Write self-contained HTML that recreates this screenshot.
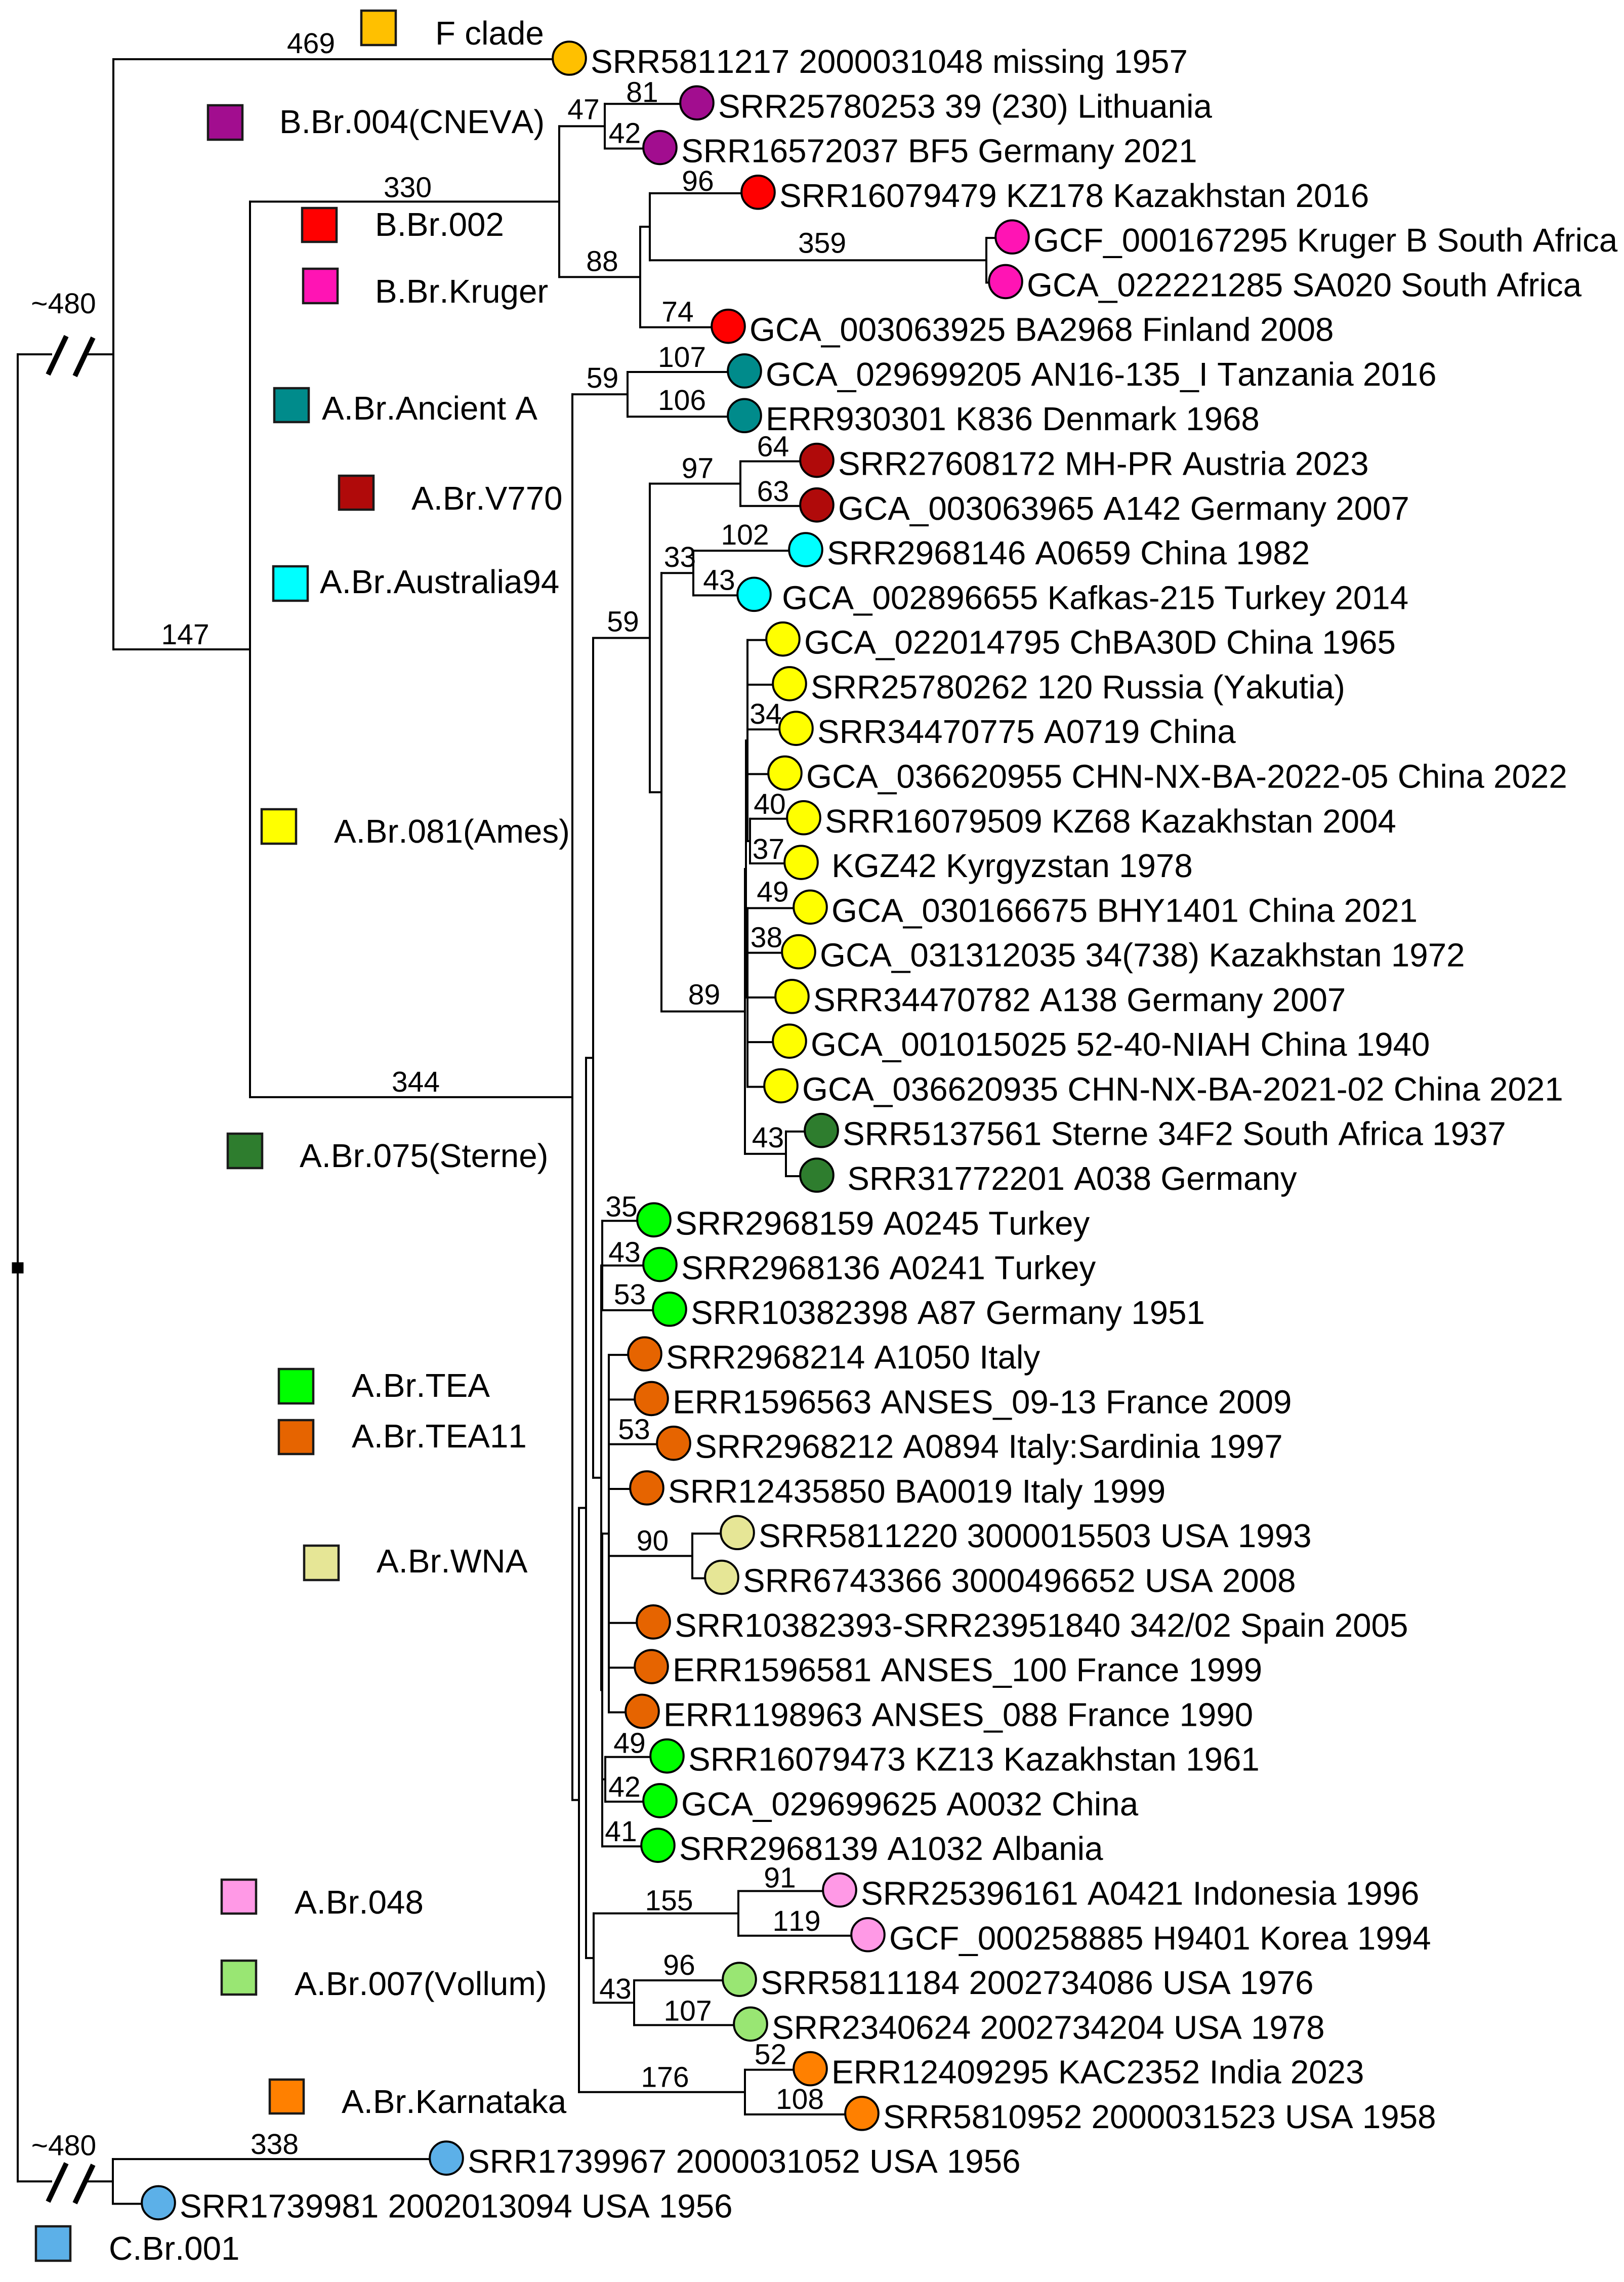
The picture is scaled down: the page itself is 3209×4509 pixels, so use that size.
<!DOCTYPE html>
<html lang="en">
<head>
<meta charset="utf-8">
<title>Bacillus anthracis phylogeny</title>
<style>
html,body{margin:0;padding:0;background:#fff;}
svg{display:block;}
text{font-family:"Liberation Sans",Arial,sans-serif;fill:#000;font-kerning:none;text-rendering:geometricPrecision;}
.tip-text{font-size:65.5px;}
.legend-text{font-size:65.5px;}
.support-text{font-size:57px;text-anchor:middle;}
.swatch{stroke:#1a1a1a;stroke-width:4.5;}
</style>
</head>
<body>
<svg id="tree" xmlns="http://www.w3.org/2000/svg" width="3209" height="4509" viewBox="0 0 3209 4509">
  <rect x="0" y="0" width="3209" height="4509" fill="#fff"/>
  <g id="branches" stroke="#000" stroke-width="4" stroke-linecap="square" fill="none"></g>
  <g id="breaks" stroke="#000" stroke-width="10" fill="none"></g>
  <g id="supports"></g>
  <g id="tips"></g>
  <g id="labels"></g>

  <g>
    <g><rect class="swatch" x="714" y="21" width="68" height="68" fill="#FFC000"/><text class="legend-text" x="860" y="88">F clade</text></g>
    <g><rect class="swatch" x="411" y="208" width="68" height="68" fill="#A20D8F"/><text class="legend-text" x="552" y="263">B.Br.004(CNEVA)</text></g>
    <g><rect class="swatch" x="597" y="411" width="68" height="67" fill="#FF0000"/><text class="legend-text" x="741" y="466">B.Br.002</text></g>
    <g><rect class="swatch" x="599" y="531" width="68" height="68" fill="#FF14B4"/><text class="legend-text" x="741" y="598">B.Br.Kruger</text></g>
    <g><rect class="swatch" x="542" y="767" width="68" height="67" fill="#008B8B"/><text class="legend-text" x="636" y="829">A.Br.Ancient A</text></g>
    <g><rect class="swatch" x="670" y="940" width="68" height="67" fill="#B00A0A"/><text class="legend-text" x="813" y="1007">A.Br.V770</text></g>
    <g><rect class="swatch" x="540" y="1119" width="68" height="68" fill="#00FFFF"/><text class="legend-text" x="632" y="1172">A.Br.Australia94</text></g>
    <g><rect class="swatch" x="517" y="1599" width="68" height="68" fill="#FFFF00"/><text class="legend-text" x="660" y="1665">A.Br.081(Ames)</text></g>
    <g><rect class="swatch" x="450" y="2240" width="68" height="68" fill="#2E7D2E"/><text class="legend-text" x="592" y="2306">A.Br.075(Sterne)</text></g>
    <g><rect class="swatch" x="551" y="2705" width="68" height="68" fill="#00FF00"/><text class="legend-text" x="695" y="2760">A.Br.TEA</text></g>
    <g><rect class="swatch" x="551" y="2806" width="68" height="67" fill="#E66400"/><text class="legend-text" x="695" y="2860">A.Br.TEA11</text></g>
    <g><rect class="swatch" x="601" y="3054" width="68" height="68" fill="#E6E696"/><text class="legend-text" x="744" y="3107">A.Br.WNA</text></g>
    <g><rect class="swatch" x="438" y="3714" width="68" height="67" fill="#FF99E6"/><text class="legend-text" x="582" y="3781">A.Br.048</text></g>
    <g><rect class="swatch" x="438" y="3874" width="68" height="67" fill="#99E673"/><text class="legend-text" x="582" y="3942">A.Br.007(Vollum)</text></g>
    <g><rect class="swatch" x="533" y="4109" width="67" height="67" fill="#FF8000"/><text class="legend-text" x="675" y="4175">A.Br.Karnataka</text></g>
    <g><rect class="swatch" x="71" y="4399" width="68" height="68" fill="#5CB0E8"/><text class="legend-text" x="215" y="4465">C.Br.001</text></g>
  </g>
</svg>

<script>
// ---- Data: tips, listed top to bottom ----
const tipLabels = [
"SRR5811217 2000031048 missing 1957",
"SRR25780253 39 (230) Lithuania",
"SRR16572037 BF5 Germany 2021",
"SRR16079479 KZ178 Kazakhstan 2016",
"GCF_000167295 Kruger B South Africa",
"GCA_022221285 SA020 South Africa",
"GCA_003063925 BA2968 Finland 2008",
"GCA_029699205 AN16-135_I Tanzania 2016",
"ERR930301 K836 Denmark 1968",
"SRR27608172 MH-PR Austria 2023",
"GCA_003063965 A142 Germany 2007",
"SRR2968146 A0659 China 1982",
"\u2009GCA_002896655 Kafkas-215 Turkey 2014",
"GCA_022014795 ChBA30D China 1965",
"SRR25780262 120 Russia (Yakutia)",
"SRR34470775 A0719 China",
"GCA_036620955 CHN-NX-BA-2022-05 China 2022",
"SRR16079509 KZ68 Kazakhstan 2004",
"\u00A0KGZ42 Kyrgyzstan 1978",
"GCA_030166675 BHY1401 China 2021",
"GCA_031312035 34(738) Kazakhstan 1972",
"SRR34470782 A138 Germany 2007",
"GCA_001015025 52-40-NIAH China 1940",
"GCA_036620935 CHN-NX-BA-2021-02 China 2021",
"SRR5137561 Sterne 34F2 South Africa 1937",
"\u00A0SRR31772201 A038 Germany",
"SRR2968159 A0245 Turkey",
"SRR2968136 A0241 Turkey",
"SRR10382398 A87 Germany 1951",
"SRR2968214 A1050 Italy",
"ERR1596563 ANSES_09-13 France 2009",
"SRR2968212 A0894 Italy:Sardinia 1997",
"SRR12435850 BA0019 Italy 1999",
"SRR5811220 3000015503 USA 1993",
"SRR6743366 3000496652 USA 2008",
"SRR10382393-SRR23951840 342/02 Spain 2005",
"ERR1596581 ANSES_100 France 1999",
"ERR1198963 ANSES_088 France 1990",
"SRR16079473 KZ13 Kazakhstan 1961",
"GCA_029699625 A0032 China",
"SRR2968139 A1032 Albania",
"SRR25396161 A0421 Indonesia 1996",
"GCF_000258885 H9401 Korea 1994",
"SRR5811184 2002734086 USA 1976",
"SRR2340624 2002734204 USA 1978",
"ERR12409295 KAC2352 India 2023",
"SRR5810952 2000031523 USA 1958",
"SRR1739967 2000031052 USA 1956",
"SRR1739981 2002013094 USA 1956"
];
const tipClades = [
"F","CNEVA","CNEVA","B002","Kruger","Kruger","B002","Ancient","Ancient","V770","V770","Aus","Aus",
"Ames","Ames","Ames","Ames","Ames","Ames","Ames","Ames","Ames","Ames","Ames",
"Sterne","Sterne","TEA","TEA","TEA","TEA11","TEA11","TEA11","TEA11","WNA","WNA",
"TEA11","TEA11","TEA11","TEA","TEA","TEA","A048","A048","Vollum","Vollum","Karnataka","Karnataka","C","C"
];

// ---- Data: tree topology. Index 0-48 = tips, 49+ = internal nodes, 49 = root ----
const parents = [
50,54,54,56,57,57,55,59,59,68,68,70,70,74,74,74,74,75,75,76,76,76,76,76,72,72,78,78,78,80,80,80,80,81,81,80,80,80,82,82,79,64,64,65,65,61,61,51,51,
-1,49,49,50,52,53,53,55,56,52,58,58,60,60,62,63,63,62,66,67,67,69,69,71,71,73,74,73,66,77,77,79,80,79
];
// ---- Data: branch lengths as drawn, same indexing ----
const branchLengths = [
450.5,91,54.5,107,25.5,19,87,115.5,115.5,75.5,75.5,111,60,35,41.5,48,37,53,50.5,62,50.5,44,41.5,33,35,30.5,51,57,66.5,35.5,42,64,37.5,44.5,29,44,42,33,61,54,55,100,128,104,115,64.5,115.5,329.5,45,
0,94.5,94,135,305.5,45,80,9.5,332.5,318.5,54.5,6.5,164,7,7.5,143,40,7,56,89.5,11.5,31.5,82.5,40.5,1,1.5,2.5,1.5,8,1,1,6.5,82.5,3
];
// ---- Data: printed branch values, same indexing ----
const branchValues = [
"469","81","42","96","","","74","107","106","64","63","102","43","","","34","","40","37","49","38","","","","","","35","43","53","","","53","","","","","","","49","42","41","91","119","96","107","52","108","338","",
"","~480","~480","147","330","47","88","","359","344","59","","176","","","155","43","","59","97","","33","89","43","","","","","","","","","90",""
];
// Branches drawn with a scale break
const brokenBranches = [50, 51];

// ---- Styles / layout (not data) ----
const cladeColors = {F:"#FFC000",CNEVA:"#A20D8F",B002:"#FF0000",Kruger:"#FF14B4",Ancient:"#008B8B",V770:"#B00A0A",Aus:"#00FFFF",Ames:"#FFFF00",Sterne:"#2E7D2E",TEA:"#00FF00",TEA11:"#E66400",WNA:"#E6E696",A048:"#FF99E6",Vollum:"#99E673",Karnataka:"#FF8000",C:"#5CB0E8"};
const valueNudges = {
0:[-60,-12],1:[-17,-4],2:[-15,-11],3:[-12,-5],6:[-13,-11],7:[-8,-10],8:[-8,-13],9:[-11,-10],10:[-11,-10],11:[-9,-12],12:[-9,-11],
15:[-12,-11],17:[-14,-10],18:[-14,-9],19:[-12,-13],20:[-13,-11],26:[-13,-9],27:[-13,-7],28:[-12,-12],31:[-14,-10],38:[-13,-8],39:[-16,-10],40:[-18,-10],
41:[-18,-7],42:[-13,-10],43:[-15,-11],44:[-9,-9],45:[-14,-11],46:[-7,-11],47:[-10,-10],
50:[-4,-81],51:[-3,-52],52:[7,-10],53:[6,-9],54:[3,-14],55:[5,-12],57:[8,-15],58:[9,-11],59:[5,-13],61:[6,-10],64:[6,-6],65:[3,-8],67:[3,-13],68:[5,-11],70:[5,-12],71:[2,-14],72:[5,-13],81:[4,-11]
};

// ---- Axis functions ----
const xScale = d => 35 + d * 2;
const yScale = row => 117 + row * 88.28;

// ---- Derived layout ----
const SVGNS = "http://www.w3.org/2000/svg";
const tipCount = tipLabels.length;
const children = parents.map(() => []);
parents.forEach((p, i) => { if (p >= 0) children[p].push(i); });
const depth = [];
const yPos = [];
function layout(i, d) {
  depth[i] = d + branchLengths[i];
  children[i].forEach(c => layout(c, depth[i]));
  if (i < tipCount) { yPos[i] = yScale(i); }
  else {
    const ys = children[i].map(c => yPos[c]);
    yPos[i] = (Math.min(...ys) + Math.max(...ys)) / 2;
  }
}
const rootIndex = parents.indexOf(-1);
layout(rootIndex, 0);

function addLine(parent, x1, y1, x2, y2) {
  const el = document.createElementNS(SVGNS, "line");
  el.setAttribute("x1", x1);
  el.setAttribute("y1", y1);
  el.setAttribute("x2", x2);
  el.setAttribute("y2", y2);
  parent.appendChild(el);
  return el;
}

const gBranches = document.getElementById("branches");
const gBreaks = document.getElementById("breaks");
const gSupports = document.getElementById("supports");
const gTips = document.getElementById("tips");
const gLabels = document.getElementById("labels");

parents.forEach((p, i) => {
  const x = xScale(depth[i]);
  const y = yPos[i];
  // vertical connector of internal nodes
  if (i >= tipCount) {
    const ys = children[i].map(c => yPos[c]);
    const v = addLine(gBranches, x, Math.min(...ys), x, Math.max(...ys));
    
    
  }
  if (p < 0) return;
  const px = xScale(depth[p]);
  // horizontal branch
  if (brokenBranches.includes(i)) {
    const gapL = px + 66, gapR = px + 140;
    const h1 = addLine(gBranches, px, y, gapL, y);
    
    
    const h2 = addLine(gBranches, gapR, y, x, y);
    
    
    [px + 78, px + 131].forEach((cx, k) => {
      const s = addLine(gBreaks, cx + 18, y - 36 + k * 3, cx - 18, y + 40 + k * 3);
      
      
    });
  } else {
    const h = addLine(gBranches, px, y, x, y);
    
    
  }
  // printed value
  if (branchValues[i] !== "") {
    const n = valueNudges[i] || [0, -10];
    const t = document.createElementNS(SVGNS, "text");
    t.setAttribute("class", "support-text");
    t.setAttribute("x", (px + x) / 2 + n[0]);
    t.setAttribute("y", y + n[1]);
    
    
    t.textContent = branchValues[i];
    gSupports.appendChild(t);
  }
});

// tip markers and labels
tipLabels.forEach((label, i) => {
  const x = xScale(depth[i]);
  const y = yPos[i];
  const c = document.createElementNS(SVGNS, "ellipse");
  c.setAttribute("cx", x);
  c.setAttribute("cy", y - 2);
  c.setAttribute("rx", 32.8);
  c.setAttribute("ry", 32.8);
  c.setAttribute("fill", cladeColors[tipClades[i]]);
  c.setAttribute("stroke", "#000");
  c.setAttribute("stroke-width", 4);
  
  
  gTips.appendChild(c);
  const t = document.createElementNS(SVGNS, "text");
  t.setAttribute("class", "tip-text");
  t.setAttribute("x", x + 42);
  t.setAttribute("y", y + 27);
  
  
  t.textContent = label;
  gLabels.appendChild(t);
});

// root node marker
const rootMark = document.createElementNS(SVGNS, "rect");
rootMark.setAttribute("x", xScale(depth[rootIndex]) - 9.5);
rootMark.setAttribute("y", yPos[rootIndex] - 9);
rootMark.setAttribute("width", 19);
rootMark.setAttribute("height", 18);
rootMark.setAttribute("fill", "#000");


gBranches.appendChild(rootMark);
</script>
</body>
</html>
